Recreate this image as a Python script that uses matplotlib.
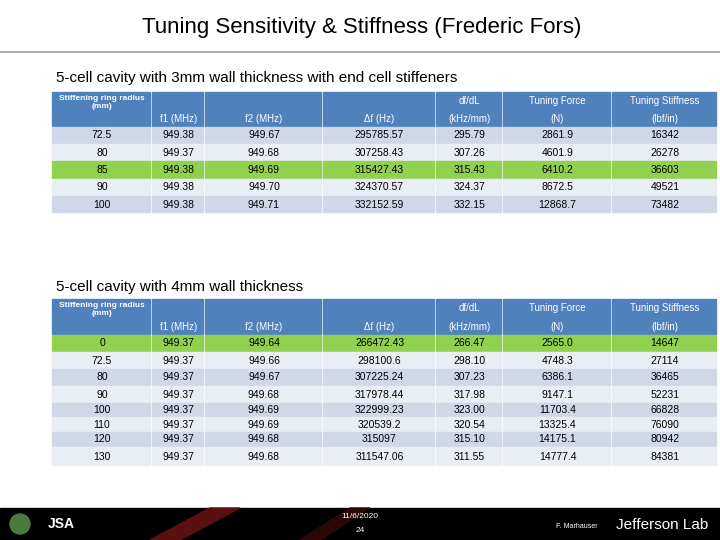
import matplotlib.pyplot as plt
from matplotlib.patches import Rectangle, Polygon

plt.rcParams['font.family'] = ['Liberation Sans', 'DejaVu Sans']

headers = [("Stiffening ring radius\n(mm)", ""), ("", "f1 (MHz)"), ("", "f2 (MHz)"),
           ("", "Δf (Hz)"), ("df/dL", "(kHz/mm)"), ("Tuning Force", "(N)"),
           ("Tuning Stiffness", "(lbf/in)")]

t1_radius = ["72.5", "80", "85", "90", "100"]
t1_f1 = ["949.38", "949.37", "949.38", "949.38", "949.38"]
t1_f2 = ["949.67", "949.68", "949.69", "949.70", "949.71"]
t1_df = ["295785.57", "307258.43", "315427.43", "324370.57", "332152.59"]
t1_dfdl = ["295.79", "307.26", "315.43", "324.37", "332.15"]
t1_force = ["2861.9", "4601.9", "6410.2", "8672.5", "12868.7"]
t1_stiff = ["16342", "26278", "36603", "49521", "73482"]

t2_radius = ["0", "72.5", "80", "90", "100", "110", "120", "130"]
t2_f1 = ["949.37"] * 8
t2_f2 = ["949.64", "949.66", "949.67", "949.68", "949.69", "949.69", "949.68", "949.68"]
t2_df = ["266472.43", "298100.6", "307225.24", "317978.44", "322999.23", "320539.2", "315097", "311547.06"]
t2_dfdl = ["266.47", "298.10", "307.23", "317.98", "323.00", "320.54", "315.10", "311.55"]
t2_force = ["2565.0", "4748.3", "6386.1", "9147.1", "11703.4", "13325.4", "14175.1", "14777.4"]
t2_stiff = ["14647", "27114", "36465", "52231", "66828", "76090", "80942", "84381"]

col_x = [52, 152, 205, 323, 436, 503, 612, 718]
HEAD = "#4f81bd"
ROW_A = "#d0d8e8"
ROW_B = "#e9edf4"
GREEN = "#92d050"

fig = plt.figure(figsize=(7.2, 5.4), dpi=100)
ax = fig.add_axes([0, 0, 1, 1])
ax.set_xlim(0, 720)
ax.set_ylim(540, 0)
ax.axis("off")

ax.text(362, 27, "Tuning Sensitivity & Stiffness (Frederic Fors)", ha="center", va="center", fontsize=16)
ax.plot([0, 720], [52, 52], color="#a0a0a0", lw=1.2)


def draw_table(y_head, row_edges, cols, green_row):
    for i in range(7):
        x0, x1 = col_x[i], col_x[i + 1]
        ax.add_patch(Rectangle((x0, y_head), x1 - x0 - 2, row_edges[0] - y_head - 1, color=HEAD))
        top, bot = headers[i]
        xc = (x0 + x1) / 2
        if i == 0:
            ax.text(xc, y_head + 3, top, ha="center", va="top", fontsize=6, color="white",
                    fontweight="bold", linespacing=1.2)
        else:
            ax.text(xc, y_head + 9, top, ha="center", va="center", fontsize=7, color="white")
            ax.text(xc, row_edges[0] - 8, bot, ha="center", va="center", fontsize=7, color="white")
    n = len(row_edges) - 1
    for r in range(n):
        y0, y1 = row_edges[r], row_edges[r + 1]
        c = GREEN if r == green_row else (ROW_A if r % 2 == 0 else ROW_B)
        for i in range(7):
            x0, x1 = col_x[i], col_x[i + 1]
            ax.add_patch(Rectangle((x0, y0), x1 - x0 - 2, y1 - y0 - 1, color=c))
            ax.text((x0 + x1) / 2, (y0 + y1) / 2, cols[i][r], ha="center", va="center", fontsize=7.5)


ax.text(56, 78, "5-cell cavity with 3mm wall thickness with end cell stiffeners", ha="left", va="center", fontsize=11)
draw_table(92, [127, 144, 161, 179, 196, 213],
           [t1_radius, t1_f1, t1_f2, t1_df, t1_dfdl, t1_force, t1_stiff], 2)

ax.text(56, 287, "5-cell cavity with 4mm wall thickness", ha="left", va="center", fontsize=11)
draw_table(299, [335, 352, 369, 386, 403, 417, 432, 447, 466],
           [t2_radius, t2_f1, t2_f2, t2_df, t2_dfdl, t2_force, t2_stiff], 0)

# footer band
ax.add_patch(Rectangle((0, 508), 720, 32, color="black"))
ax.add_patch(Polygon([[150, 540], [210, 508], [240, 508], [180, 540]], color="#5a1010"))
ax.add_patch(Polygon([[300, 540], [350, 508], [370, 508], [320, 540]], color="#2a0808"))
ax.add_patch(plt.Circle((20, 524), 10, color="#4a7a3a"))
ax.text(48, 524, "JSA", ha="left", va="center", fontsize=10, color="white", fontweight="bold")
ax.text(360, 517, "11/6/2020", ha="center", va="center", fontsize=6, color="white")
ax.text(360, 531, "24", ha="center", va="center", fontsize=6, color="white")
ax.text(598, 526, "F. Marhauser", ha="right", va="center", fontsize=5, color="white")
ax.text(662, 525, "Jefferson Lab", ha="center", va="center", fontsize=11, color="white")

fig.savefig("out.png", dpi=100)
